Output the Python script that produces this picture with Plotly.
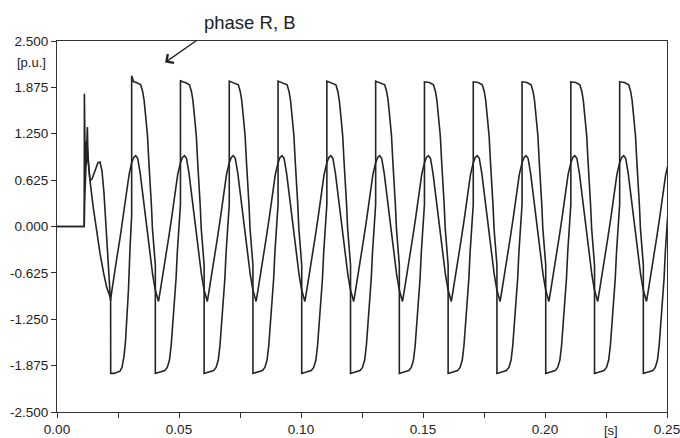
import plotly.graph_objects as go

# ---- axis ticks ----
y_tick_values = [2.5, 1.875, 1.25, 0.625, 0.0, -0.625, -1.25, -1.875, -2.5]
y_tick_labels = ["2.500", "1.875", "1.250", "0.625", "0.000", "-0.625", "-1.250", "-1.875", "-2.500"]
x_tick_values = [0.0, 0.05, 0.10, 0.15, 0.20, 0.25]
x_tick_labels = ["0.00", "0.05", "0.10", "0.15", "0.20", "0.25"]

# ---- phase R, B : pre-fault + transient (time s, p.u.) ----
rb_start_t = [0.0, 0.01115, 0.01123, 0.01156, 0.01189, 0.01213, 0.01246, 0.01291, 0.01352,
              0.01488, 0.01598, 0.01762, 0.01906, 0.02037, 0.02197, 0.02201, 0.02336,
              0.02459, 0.02582, 0.02664, 0.02746, 0.02807, 0.02869, 0.02930, 0.02992, 0.0306]
rb_start_v = [0.0, 0.0, 1.79, 0.75, 1.15, 0.85, 1.05, 0.80, 0.62,
              0.25, 0.0, -0.36, -0.62, -0.82, -0.97, -1.98, -1.98,
              -1.97, -1.95, -1.90, -1.75, -1.55, -1.25, -0.85, -0.30, 0.15]

# ---- phase Y : pre-fault + transient ----
y_start_t = [0.0, 0.01115, 0.01135, 0.01170, 0.01246, 0.01270, 0.01352, 0.01434, 0.01516,
             0.01598, 0.01680, 0.01762, 0.01844, 0.01926, 0.02008, 0.02090, 0.02193,
             0.02242, 0.02340, 0.02463, 0.02586, 0.02709, 0.02832, 0.02955]
y_start_v = [0.0, 0.0, 0.35, 0.62, 1.34, 0.90, 0.62, 0.64, 0.72,
             0.80, 0.86, 0.87, 0.75, 0.45, 0.0, -0.50, -1.00,
             -0.88, -0.64, -0.40, -0.15, 0.12, 0.42, 0.70]

# ---- steady-state cycle shapes, read as ms after each steep rise of phase R, B ----
rb_cycle_ms = [0.0, 0.8, 2.0, 3.7, 4.5, 5.1, 5.7, 6.5, 7.0, 7.6, 8.1, 8.5, 9.0, 9.4, 9.7,
               9.7, 10.5, 12.0, 13.6, 14.6, 15.5, 16.2, 16.8, 17.5, 18.2, 18.7, 19.3, 20.0]
rb_cycle_v = [1.96, 1.95, 1.94, 1.91, 1.82, 1.70, 1.50, 1.22, 0.90, 0.60, 0.28, -0.02, -0.25, -0.42, -0.52,
              -1.98, -1.97, -1.96, -1.94, -1.90, -1.80, -1.60, -1.35, -1.05, -0.70, -0.35, 0.0, 0.30]

y_cycle_ms = [0.0, 0.82, 1.64, 2.46, 3.49, 4.51, 5.54, 6.56, 7.59, 8.61, 9.64, 10.40, 11.0,
              11.65, 12.71, 13.94, 15.17, 16.40, 17.63, 18.86, 20.0]
y_cycle_v = [0.86, 0.93, 0.955, 0.92, 0.72, 0.45, 0.17, -0.12, -0.40, -0.65, -0.85, -0.96, -1.01,
             -0.88, -0.64, -0.40, -0.15, 0.12, 0.42, 0.70, 0.86]

# times (s) of the steep rises of phase R, B and the top reached each time
rise_times = [0.0306, 0.0506, 0.0706, 0.0906, 0.1106, 0.1306, 0.1506, 0.1706, 0.1906, 0.2106, 0.2306]
rb_tops = [2.03, 1.97, 1.96, 1.96, 1.96, 1.96, 1.95, 1.95, 1.95, 1.95, 1.95]

t_rb, v_rb = list(rb_start_t), list(rb_start_v)
t_y, v_y = list(y_start_t), list(y_start_v)
for k, r in enumerate(rise_times):
    for j, (ms, v) in enumerate(zip(rb_cycle_ms, rb_cycle_v)):
        t_rb.append(r + ms / 1000.0)
        v_rb.append(rb_tops[k] if j == 0 else v)
    for ms, v in zip(y_cycle_ms, y_cycle_v):
        t_y.append(r + ms / 1000.0)
        v_y.append(v)

LINE = "#242424"
AX = "#333333"
FONT = "Arial, 'Liberation Sans', sans-serif"

fig = go.Figure()
fig.add_trace(go.Scatter(x=t_y, y=v_y, mode="lines", name="phase Y",
                         line=dict(color=LINE, width=1.6)))
fig.add_trace(go.Scatter(x=t_rb, y=v_rb, mode="lines", name="phase R, B",
                         line=dict(color=LINE, width=1.6)))

fig.update_layout(
    width=680, height=438,
    margin=dict(l=57, r=13, t=41, b=26, autoexpand=False),
    paper_bgcolor="white", plot_bgcolor="white",
    showlegend=False,
    font=dict(family=FONT, size=13.5, color="#222222"),
    xaxis=dict(range=[0, 0.25], tickmode="array", tickvals=x_tick_values, ticktext=x_tick_labels,
               showgrid=False, zeroline=False, showline=True, linecolor=AX, linewidth=1.2,
               mirror=True, ticks="outside", ticklen=5, tickcolor=AX, automargin=False,
               tickfont=dict(size=13.5), ticklabeloverflow="allow",
               minor=dict(dtick=0.025, tick0=0, ticks="outside", ticklen=5, tickcolor=AX,
                          showgrid=False)),
    yaxis=dict(range=[-2.5, 2.5], tickmode="array", tickvals=y_tick_values, ticktext=y_tick_labels,
               showgrid=False, zeroline=False, showline=True, linecolor=AX, linewidth=1.2,
               mirror=True, ticks="outside", ticklen=5, tickcolor=AX, automargin=False,
               tickfont=dict(size=13.5), ticklabeloverflow="allow"),
)

fig.add_annotation(xref="paper", yref="paper", x=-0.0426, y=0.943, text="[p.u.]",
                   showarrow=False, xanchor="center", yanchor="middle", font=dict(size=13))
fig.add_annotation(xref="paper", yref="paper", x=0.908, y=-0.05, text="[s]",
                   showarrow=False, xanchor="center", yanchor="middle", font=dict(size=13))
fig.add_annotation(xref="paper", yref="paper", x=0.316, y=1.051, text="phase R, B", showarrow=False,
                   xanchor="center", yanchor="middle", font=dict(size=18.5, color="#222222"))
fig.add_annotation(x=0.0443, y=2.21, ax=0.0578, ay=2.52, axref="x", ayref="y", text="",
                   showarrow=True, arrowhead=4, arrowsize=1.6, arrowwidth=1.3, arrowcolor="#222222")

fig.write_html("out.html")
